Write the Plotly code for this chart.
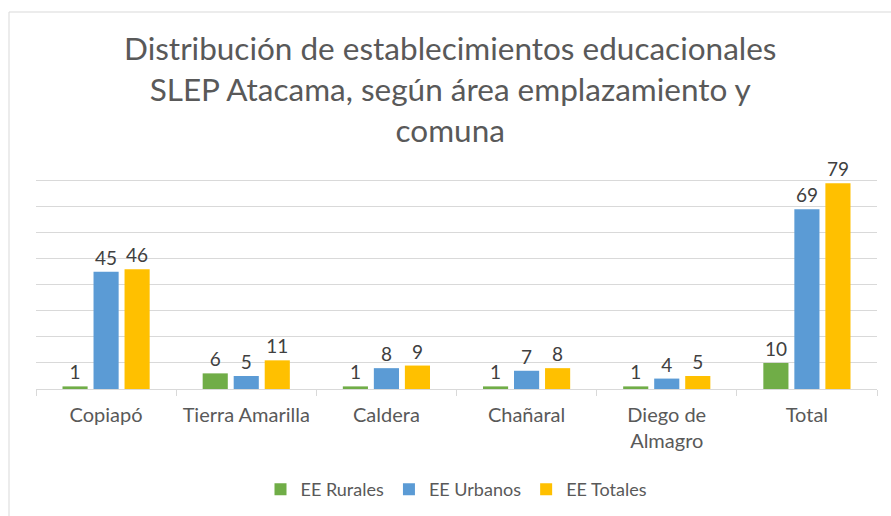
import plotly.graph_objects as go

categories = ["Copiapó", "Tierra Amarilla", "Caldera", "Chañaral", "Diego de<br>Almagro", "Total"]
rurales = [1, 6, 1, 1, 1, 10]
urbanos = [45, 5, 8, 7, 4, 69]
totales = [46, 11, 9, 8, 5, 79]
series_names = ["EE Rurales", "EE Urbanos", "EE Totales"]
colors = ["#70AD47", "#5B9BD5", "#FFC000"]
grid_vals = [10, 20, 30, 40, 50, 60, 70, 80]

W, H = 891, 516
L, R, T, B = 36, 14, 179, 127
pw, ph = W - L - R, H - T - B

fig = go.Figure()
for name, vals, c in zip(series_names, [rurales, urbanos, totales], colors):
    fig.add_trace(go.Bar(
        x=categories, y=vals, name=name, marker_color=c, marker_line_width=0,
        text=vals, textposition="outside", cliponaxis=False,
        textfont=dict(size=19, color="#404040", family="Lato"),
    ))

def px_x(p):
    return (p - L) / pw

def px_y(p):
    return (H - B - p) / ph

fig.add_shape(type="rect", xref="paper", yref="paper",
              x0=px_x(9), x1=px_x(W + 10), y0=px_y(H + 10), y1=px_y(12),
              line=dict(color="#D9D9D9", width=1), fillcolor="rgba(0,0,0,0)", layer="below")

fig.add_annotation(
    text="Distribución de establecimientos educacionales<br>SLEP Atacama, según área emplazamiento y<br>comuna",
    xref="paper", yref="paper", x=px_x(450), y=px_y(27), xanchor="center", yanchor="top",
    showarrow=False, font=dict(size=31.5, color="#595959", family="Lato"), align="center",
)

fig.update_layout(
    width=W, height=H,
    margin=dict(l=L, r=R, t=T, b=B, autoexpand=False),
    paper_bgcolor="white", plot_bgcolor="white",
    barmode="group", bargap=0.336, bargroupgap=0.19,
    font=dict(family="Lato", color="#595959"),
    showlegend=True,
    legend=dict(orientation="h", x=0.5, xanchor="center", y=px_y(471), yanchor="top",
                font=dict(size=18, color="#595959"), traceorder="normal",
                itemwidth=30, tracegroupgap=0),
    xaxis=dict(showline=True, linecolor="#D9D9D9", linewidth=1, ticks="outside",
               tickson="boundaries", ticklen=6, tickcolor="#D9D9D9", automargin=False,
               ticklabelstandoff=8,
               tickfont=dict(size=20, color="#595959"), showgrid=False),
    yaxis=dict(range=[0, 80.6], tickvals=grid_vals, showgrid=True,
               gridcolor="#D9D9D9", gridwidth=1, automargin=False,
               showticklabels=False, zeroline=False, fixedrange=True),
)

fig.write_html("out.html", config={"displayModeBar": False},
               post_script="document.body.style.margin='0';")
